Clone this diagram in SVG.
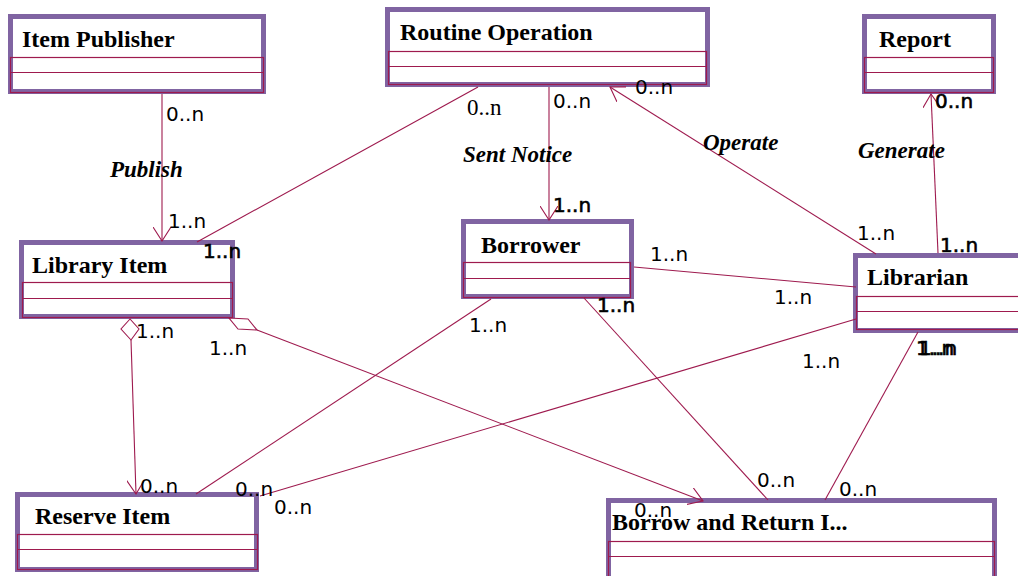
<svg xmlns="http://www.w3.org/2000/svg" width="1018" height="576" viewBox="0 0 1018 576">
<defs>
<style>
.frame{fill:#ffffff;stroke:#8064a2;stroke-width:5}
.comp{fill:none;stroke:#9e1a4e;stroke-width:1.2}
.title{font-family:"Liberation Serif","Times New Roman",serif;font-weight:bold;font-size:24px;fill:#000}
.conn{fill:none;stroke:#9e1a4e;stroke-width:1.1}
.dia{fill:#ffffff;stroke:#9e1a4e;stroke-width:1.1}
.mult{font-family:"DejaVu Sans",sans-serif;font-size:20px;fill:#000}
.heavy{stroke:#000;stroke-width:0.6}
.smult{font-family:"Liberation Serif","Times New Roman",serif;font-size:23px;fill:#000}
.role{font-family:"Liberation Serif","Times New Roman",serif;font-weight:bold;font-style:italic;font-size:23px;fill:#000}
</style>
<marker id="open" viewBox="0 0 15 18" refX="14" refY="9" markerWidth="15" markerHeight="18" markerUnits="userSpaceOnUse" orient="auto">
<path d="M0,0 L14,9 L0,18" fill="none" stroke="#9e1a4e" stroke-width="1.1"/>
</marker>
</defs>
<rect width="1018" height="576" fill="#ffffff"/>

<g id="item-publisher">
<rect class="frame" x="10.5" y="16.5" width="253" height="75"/>
<rect class="comp" x="10.5" y="57.5" width="253" height="35"/>
<line class="comp" x1="10.5" y1="72.5" x2="263.5" y2="72.5"/>
<text class="title" x="22" y="47">Item Publisher</text>
</g>

<g id="routine-operation">
<rect class="frame" x="387.5" y="9.5" width="320" height="75"/>
<rect class="comp" x="388.5" y="51.5" width="318" height="33"/>
<line class="comp" x1="388.5" y1="66.5" x2="706.5" y2="66.5"/>
<text class="title" x="400" y="40">Routine Operation</text>
</g>

<g id="report">
<rect class="frame" x="864.5" y="16.5" width="129" height="75"/>
<rect class="comp" x="864.5" y="57.5" width="129" height="35"/>
<line class="comp" x1="864.5" y1="72.5" x2="993.5" y2="72.5"/>
<text class="title" x="879" y="47">Report</text>
</g>

<g id="library-item">
<rect class="frame" x="21.5" y="242.5" width="211" height="74"/>
<rect class="comp" x="22.5" y="282.5" width="210" height="35"/>
<line class="comp" x1="22.5" y1="298.5" x2="232.5" y2="298.5"/>
<text class="title" x="32" y="273">Library Item</text>
</g>

<g id="borrower">
<rect class="frame" x="463.5" y="221.5" width="168" height="75"/>
<rect class="comp" x="463.5" y="262.5" width="167" height="35"/>
<line class="comp" x1="463.5" y1="278.5" x2="630.5" y2="278.5"/>
<text class="title" x="481" y="253">Borrower</text>
</g>

<g id="librarian">
<rect class="frame" x="855.5" y="255.5" width="175" height="75"/>
<rect class="comp" x="856.5" y="296.5" width="170" height="33"/>
<line class="comp" x1="856.5" y1="311.5" x2="1026" y2="311.5"/>
<text class="title" x="867" y="285">Librarian</text>
</g>

<g id="reserve-item">
<rect class="frame" x="17.5" y="494.5" width="239" height="75"/>
<rect class="comp" x="17.5" y="534.5" width="240" height="35"/>
<line class="comp" x1="17.5" y1="549.5" x2="257.5" y2="549.5"/>
<text class="title" x="35" y="524">Reserve Item</text>
</g>

<g id="borrow-and-return">
<rect class="frame" x="608.5" y="500.5" width="386" height="80"/>
<rect class="comp" x="608.5" y="541.5" width="386" height="40"/>
<line class="comp" x1="608.5" y1="556.5" x2="994.5" y2="556.5"/>
<text class="title" x="612" y="530">Borrow and Return I...</text>
</g>

<g id="connectors">
<path class="conn" d="M162,94 L162,241" marker-end="url(#open)"/>
<path class="conn" d="M478,87 L197,242"/>
<path class="conn" d="M549,87 L549,220" marker-end="url(#open)"/>
<path class="conn" d="M876,254 L610,87" marker-end="url(#open)"/>
<path class="conn" d="M938,253 L931,94" marker-end="url(#open)"/>
<path class="conn" d="M634,267 L856,287"/>
<path class="conn" d="M491,299 L196,494"/>
<path class="conn" d="M584,298 L768,500"/>
<path class="conn" d="M856,319 L260,496"/>
<path class="conn" d="M918,332 L825,500"/>
<path class="conn" d="M257,330 L703,501" marker-end="url(#open)"/>
<polygon class="dia" points="229,318 248,319 257,330 238,329"/>
<path class="conn" d="M131,340 L136,494" marker-end="url(#open)"/>
<polygon class="dia" points="130,319 121,329 131,340 139,329"/>
</g>

<g id="labels">
<text class="mult" x="166" y="121">0..n</text>
<text class="role" x="110" y="177">Publish</text>
<text class="mult" x="168" y="228">1..n</text>
<text class="mult heavy" x="203" y="258">1..n</text>
<text class="smult" x="467" y="115">0..n</text>
<text class="mult" x="553" y="108">0..n</text>
<text class="mult" x="635" y="94">0..n</text>
<text class="role" x="463" y="162">Sent Notice</text>
<text class="mult heavy" x="553" y="212">1..n</text>
<text class="role" x="703" y="150">Operate</text>
<text class="role" x="858" y="158">Generate</text>
<text class="mult heavy" x="935" y="108">0..n</text>
<text class="mult" x="857" y="240">1..n</text>
<text class="mult heavy" x="940" y="252">1..n</text>
<text class="mult" x="650" y="261">1..n</text>
<text class="mult" x="774" y="304">1..n</text>
<text class="mult heavy" x="597" y="312">1..n</text>
<text class="mult" x="469" y="332">1..n</text>
<text class="mult" x="802" y="368">1..n</text>
<text class="mult heavy" x="916" y="355">1..n</text>
<text class="mult heavy" x="919" y="355">1..n</text>
<text class="mult" x="136" y="338">1..n</text>
<text class="mult" x="209" y="355">1..n</text>
<text class="mult" x="140" y="493">0..n</text>
<text class="mult" x="235" y="496">0..n</text>
<text class="mult" x="274" y="514">0..n</text>
<text class="mult" x="757" y="487">0..n</text>
<text class="mult" x="839" y="496">0..n</text>
<text class="mult" x="634" y="517">0..n</text>
</g>
</svg>
